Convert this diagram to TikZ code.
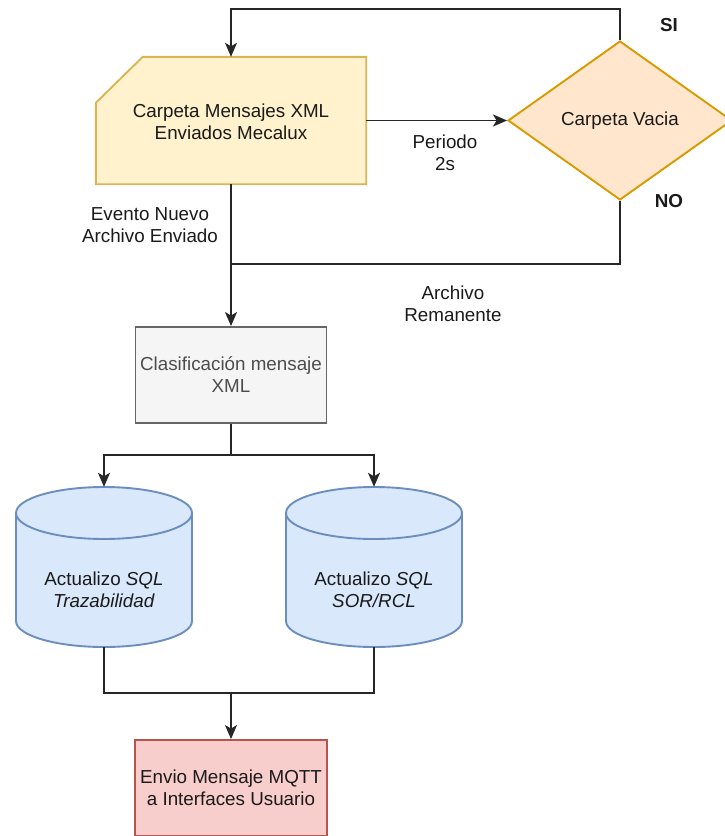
\documentclass[tikz,border=0pt]{standalone}
\usepackage{fontspec}
\setmainfont{Liberation Sans}
\usetikzlibrary{arrows.meta,shapes.geometric,calc}
\definecolor{foldfill}{HTML}{FFF2CC}
\definecolor{foldline}{HTML}{D6B656}
\definecolor{diafill}{HTML}{FFE6CC}
\definecolor{dialine}{HTML}{D79B00}
\definecolor{clfill}{HTML}{F5F5F5}
\definecolor{clline}{HTML}{666666}
\definecolor{cylfill}{HTML}{DAE8FC}
\definecolor{cylline}{HTML}{6C8EBF}
\definecolor{mqfill}{HTML}{F8CECC}
\definecolor{mqline}{HTML}{B85450}
\definecolor{txt}{HTML}{1A1A1A}
\definecolor{cltxt}{HTML}{4D4D4D}
\newcommand\dbcyl[4]{%
  \node[inner sep=0pt, minimum width=176pt, minimum height=160pt] (#1) at (#2,#3) {};
  \draw[cylst] (#2-88,#3-54) -- (#2-88,#3+54)
     arc[start angle=180, end angle=360, x radius=88pt, y radius=26pt]
     -- (#2+88,#3-54)
     arc[start angle=0, end angle=180, x radius=88pt, y radius=26pt] -- cycle;
  \draw[cylst, fill=none] (#2-88,#3-54)
     arc[start angle=180, end angle=360, x radius=88pt, y radius=26pt];
  \node[lbl] at (#2,#3+23) {#4};
}
\begin{document}
\begin{tikzpicture}[x=1pt,y=-1pt,
  every node/.style={font=\fontsize{18.8pt}{22pt}\selectfont, text=txt},
  lbl/.style={align=center, inner sep=0pt},
  shp/.style={line width=1.9pt},
  cylst/.style={line width=1.9pt, draw=cylline, fill=cylfill},
  conn/.style={line width=1.5pt, draw=black!85},
  arr/.style={conn, -{Stealth[length=14pt, width=12pt, inset=3.5pt]}},
  rbox/.style={shp, rectangle, align=center, inner sep=2pt}
]
\useasboundingbox (0,0) rectangle (724,836);

% folder
\node[inner sep=0pt, minimum width=270pt, minimum height=127pt] (folder) at (231,120.5) {};
\draw[shp, draw=foldline, fill=foldfill]
  (folder.south west) -- ($(folder.north west)+(0,46)$) -- ($(folder.north west)+(47,0)$)
  -- (folder.north east) -- (folder.south east) -- cycle;
\node[lbl] at (231,122) {Carpeta Mensajes XML\\Enviados Mecalux};

% diamond
\node[diamond, shp, draw=dialine, fill=diafill, minimum width=224pt, minimum height=159pt, inner sep=0pt] (dia) at (620,120.5) {};
\node[lbl] at (dia.center) {Carpeta Vacia};

% classification
\node[rbox, draw=clline, fill=clfill, minimum width=191pt, minimum height=96pt, text=cltxt] (clas) at (231,375) {Clasificación mensaje\\XML};

% cylinders
\dbcyl{cyl1}{104}{567}{Actualizo \textit{SQL}\\\textit{Trazabilidad}}
\dbcyl{cyl2}{374}{567}{Actualizo \textit{SQL}\\\textit{SOR/RCL}}

% mqtt
\node[rbox, draw=mqline, fill=mqfill, minimum width=192pt, minimum height=96pt] (mqtt) at (231,788) {Envio Mensaje MQTT\\a Interfaces Usuario};

% coordinates
\coordinate (j1) at (231,264);
\coordinate (j2) at (231,455);
\coordinate (j3) at (231,693);

% connectors
\draw[arr] (dia.north) -- ++(0,-31) -| (folder.north);
\draw[arr] (folder.east) -- (dia.west);
\draw[arr] (folder.south) -- (clas.north);
\draw[conn] (dia.south) |- (j1);
\draw[conn] (clas.south) -- (j2);
\draw[arr] (j2) -| (cyl1.north);
\draw[arr] (j2) -| (cyl2.north);
\draw[conn] (cyl1.south) |- (j3) -| (cyl2.south);
\draw[arr] (j3) -- (mqtt.north);

% labels
\node[lbl] (levt) at (150,225) {Evento Nuevo\\Archivo Enviado};
\node[lbl] (lper) at (445,153) {Periodo\\2s};
\node[lbl] (lrem) at (453,304) {Archivo\\Remanente};
\node[lbl, font=\fontsize{18.8pt}{22pt}\selectfont\bfseries] (lsi) at (669,25) {SI};
\node[lbl, font=\fontsize{18.8pt}{22pt}\selectfont\bfseries] (lno) at (669,201) {NO};
\end{tikzpicture}
\end{document}
